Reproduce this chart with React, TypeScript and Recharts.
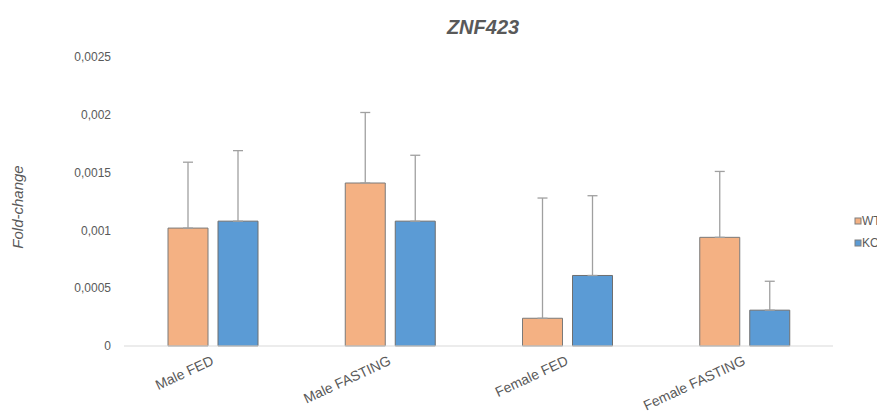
import React from 'react';
import { BarChart, Bar, XAxis, YAxis, ErrorBar, Customized } from 'recharts';

const categories = ['Male FED', 'Male FASTING', 'Female FED', 'Female FASTING'];
const wtValues = [0.00102, 0.00141, 0.00024, 0.00094];
const koValues = [0.00108, 0.00108, 0.00061, 0.00031];
const wtErrors = [0.00057, 0.00061, 0.00104, 0.00057];
const koErrors = [0.00061, 0.00057, 0.00069, 0.00025];
const yTicks = [0, 0.0005, 0.001, 0.0015, 0.002, 0.0025];
const seriesNames = ['WT', 'KO'];
const seriesColors = ['#F4B183', '#5B9BD5'];

const data = categories.map((c, i) => ({
  name: c,
  wt: wtValues[i],
  ko: koValues[i],
  wtErr: [0, wtErrors[i]],
  koErr: [0, koErrors[i]],
}));

const TEXT = '#595959';
const FONT = '"Liberation Sans", Arial, sans-serif';

const fmt = (v: number) => (v === 0 ? '0' : String(v).replace('.', ','));

const XTick = (props: any) => {
  const { x, y, payload } = props;
  const ax = x + 2;
  return (
    <text
      x={ax}
      y={y}
      transform={`rotate(-25 ${ax} ${y})`}
      textAnchor="end"
      fill={TEXT}
      fontSize={14}
      fontFamily={FONT}
    >
      {payload.value}
    </text>
  );
};

const Extras = () => (
  <g>
    <text x={483} y={34} textAnchor="middle" fill={TEXT} fontSize={20} fontWeight="bold" fontStyle="italic" fontFamily={FONT}>
      ZNF423
    </text>
    <text
      x={23}
      y={207}
      transform="rotate(-90 23 207)"
      textAnchor="middle"
      fill={TEXT}
      fontSize={15}
      fontStyle="italic"
      fontFamily={FONT}
    >
      Fold-change
    </text>
    {seriesNames.map((n, i) => (
      <g key={n}>
        <rect x={855} y={218 + i * 22} width={6} height={6} fill={seriesColors[i]} stroke="#7F7F7F" strokeWidth={1} />
        <text x={862} y={225 + i * 22} fill={TEXT} fontSize={12} fontFamily={FONT}>
          {n}
        </text>
      </g>
    ))}
  </g>
);

export default function App() {
  return (
    <div style={{ position: 'absolute', left: 0, top: 0, width: 877, height: 414, overflow: 'hidden', background: '#fff' }}>
      <BarChart
        width={900}
        height={414}
        data={data}
        margin={{ top: 57, right: 67, bottom: 0, left: 0 }}
        barSize={40}
        barGap={10}
      >
        <XAxis
          dataKey="name"
          axisLine={{ stroke: '#D9D9D9', strokeWidth: 1 }}
          tickLine={false}
          tickSize={0}
          tickMargin={18}
          height={68}
          interval={0}
          tick={<XTick />}
        />
        <YAxis
          width={124}
          domain={[0, 0.0025]}
          ticks={yTicks}
          tickFormatter={fmt}
          axisLine={false}
          tickLine={false}
          tickSize={0}
          tickMargin={13}
          tick={{ fill: TEXT, fontSize: 12, fontFamily: FONT }}
        />
        <Bar dataKey="wt" fill={seriesColors[0]} stroke="#7A7A7A" strokeWidth={1} isAnimationActive={false}>
          <ErrorBar dataKey="wtErr" direction="y" width={5} stroke="#A0A0A0" strokeWidth={1.3} />
        </Bar>
        <Bar dataKey="ko" fill={seriesColors[1]} stroke="#6F6F6F" strokeWidth={1} isAnimationActive={false}>
          <ErrorBar dataKey="koErr" direction="y" width={5} stroke="#A0A0A0" strokeWidth={1.3} />
        </Bar>
        <Customized component={Extras} />
      </BarChart>
    </div>
  );
}
